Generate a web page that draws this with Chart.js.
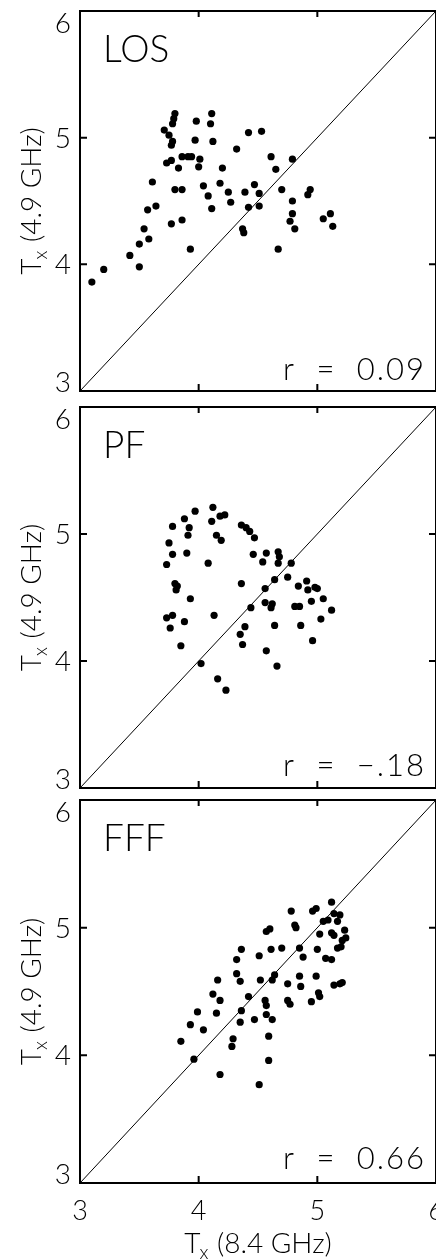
<!DOCTYPE html>
<html>
<head>
<meta charset="utf-8">
<script src="https://cdn.jsdelivr.net/npm/chart.js@4.4.1/dist/chart.umd.min.js"></script>
<style>
html,body{margin:0;padding:0;background:#fff;}
#wrap{position:relative;width:436px;height:1260px;overflow:hidden;background:#fff;}
canvas{position:absolute;left:0;}
</style>
</head>
<body>
<div id="wrap">
<canvas id="losChart" width="440" height="399" style="top:0px"></canvas>
<canvas id="pfChart" width="440" height="396" style="top:399px"></canvas>
<canvas id="fffChart" width="440" height="465" style="top:795px"></canvas>
</div>
<script>

// Tx at 8.4 GHz (x) and Tx at 4.9 GHz (y) for each group
const losT84 = [3.10,3.20,3.42,3.50,3.50,3.58,3.54,3.57,3.64,3.61,3.77,3.86,3.93,3.80,3.86,3.73,3.77,3.83,3.86,3.91,3.94,4.01,4.00,3.71,3.75,3.78,3.77,3.78,3.79,3.80,3.98,3.97,4.11,4.10,4.12,4.04,4.08,4.11,4.42,4.53,4.32,4.20,4.18,4.25,4.27,4.61,4.65,4.79,4.39,4.47,4.51,4.42,4.51,4.70,4.37,4.38,4.67,4.79,4.79,4.77,4.81,4.94,4.92,5.05,5.11,5.13];
const losT49 = [3.86,3.96,4.07,3.98,4.16,4.20,4.28,4.43,4.46,4.65,4.32,4.35,4.12,4.59,4.59,4.80,4.82,4.76,4.85,4.85,4.85,4.83,4.77,5.06,5.02,4.97,4.94,5.11,5.15,5.19,5.13,4.98,5.19,5.11,4.97,4.62,4.54,4.44,5.04,5.05,4.91,4.76,4.64,4.57,4.49,4.85,4.75,4.83,4.57,4.63,4.56,4.45,4.46,4.59,4.28,4.25,4.12,4.50,4.40,4.34,4.28,4.59,4.55,4.36,4.40,4.30];

const pfT84 = [3.97,4.12,3.88,3.78,3.92,3.91,4.11,4.18,4.22,4.15,4.19,3.75,3.78,3.90,3.73,4.08,3.80,3.82,3.81,3.93,3.73,3.78,3.76,3.88,4.13,3.85,4.02,4.16,4.23,4.36,4.39,4.35,4.37,4.36,4.40,4.43,4.47,4.46,4.54,4.57,4.67,4.68,4.67,4.78,4.64,4.75,4.56,4.44,4.56,4.62,4.61,4.64,4.57,4.66,4.84,4.91,4.92,4.98,5.00,4.95,5.05,4.81,4.85,5.12,5.03,4.86,4.96];
const pfT49 = [5.18,5.21,5.12,5.06,5.05,4.99,5.10,5.14,5.15,4.99,4.95,4.93,4.84,4.85,4.76,4.77,4.61,4.59,4.56,4.49,4.34,4.36,4.26,4.31,4.36,4.12,3.98,3.86,3.77,4.61,4.27,4.21,4.13,5.07,5.05,5.02,4.97,4.84,4.78,4.85,4.86,4.82,4.77,4.77,4.64,4.66,4.57,4.42,4.46,4.45,4.42,4.28,4.08,3.96,4.59,4.63,4.56,4.58,4.57,4.47,4.49,4.43,4.43,4.40,4.33,4.28,4.16];

const fffT84 = [4.36,4.32,4.51,4.16,4.32,4.35,4.52,4.12,4.18,3.99,4.15,4.42,4.36,4.35,4.47,3.93,4.04,4.29,4.28,3.85,3.96,4.18,4.51,4.78,4.99,4.96,5.12,4.81,4.82,4.57,4.60,5.05,5.09,5.14,5.19,5.17,5.02,5.12,5.14,5.23,5.24,5.21,4.61,4.70,4.85,4.88,5.00,5.07,5.12,5.17,5.20,4.64,4.62,4.75,4.85,4.86,4.99,5.01,5.02,4.95,5.14,5.19,5.21,4.75,4.77,4.56,4.57,4.57,4.62,4.59,4.59];
const fffT49 = [4.83,4.75,4.78,4.59,4.64,4.58,4.59,4.48,4.43,4.34,4.33,4.46,4.35,4.26,4.28,4.24,4.20,4.13,4.07,4.11,3.97,3.85,3.77,5.13,5.15,5.13,5.20,5.02,5.00,4.97,4.99,5.05,5.06,5.11,5.10,5.05,4.95,4.96,4.94,4.98,4.92,4.90,4.83,4.84,4.84,4.77,4.83,4.76,4.75,4.84,4.85,4.63,4.59,4.56,4.62,4.54,4.62,4.49,4.46,4.42,4.55,4.56,4.57,4.43,4.40,4.43,4.39,4.32,4.28,4.15,3.96];

const panelNames = ["LOS", "PF", "FFF"];
const rValues = ["0.09", "\u2212.18", "0.66"];
const tickValues = [3, 4, 5, 6];
const diagonalLine = [3, 6];

const FONT = "Lato, 'Liberation Sans', sans-serif";

function drawTx(ctx, rest, cx, base, size){

ctx.textAlign = "left";
ctx.textBaseline = "alphabetic";

ctx.font = "300 " + size + "px " + FONT;
const wT = ctx.measureText("T").width;
const wR = ctx.measureText(rest).width;

ctx.font = "300 " + Math.round(size * 0.68) + "px " + FONT;
const wX = ctx.measureText("x").width;

let x0 = cx - (wT + wX + wR) / 2;

ctx.font = "300 " + size + "px " + FONT;
ctx.fillText("T", x0, base);

ctx.font = "300 " + Math.round(size * 0.68) + "px " + FONT;
ctx.fillText("x", x0 + wT - 1, base + size * 0.22);

ctx.font = "300 " + size + "px " + FONT;
ctx.fillText(rest, x0 + wT + wX, base);

}

const framePlugin = {

id: "frame",

afterDatasetsDraw(chart, args, opts){

const ctx = chart.ctx;
const a = chart.chartArea;
const xs = chart.scales.x;
const ys = chart.scales.y;

ctx.save();

ctx.strokeStyle = "#000";
ctx.fillStyle = "#000";
ctx.lineWidth = 2;
ctx.strokeRect(a.left, a.top, a.right - a.left, a.bottom - a.top);

// inward ticks on all four sides
ctx.beginPath();
tickValues.slice(1, -1).forEach(v=>{
const px = xs.getPixelForValue(v);
const py = ys.getPixelForValue(v);
ctx.moveTo(px, a.bottom); ctx.lineTo(px, a.bottom - 7);
ctx.moveTo(px, a.top); ctx.lineTo(px, a.top + 6);
ctx.moveTo(a.left, py); ctx.lineTo(a.left + 7, py);
ctx.moveTo(a.right, py); ctx.lineTo(a.right - 7, py);
});
ctx.stroke();

// y tick labels
ctx.font = "300 28px " + FONT;
ctx.textAlign = "right";
ctx.textBaseline = "alphabetic";
tickValues.forEach((v, i)=>{
const m = ctx.measureText(String(v));
const h = m.actualBoundingBoxAscent;
let base;
if(i === tickValues.length - 1){
base = a.top + 2 + h;
}
else if(i === 0){
base = a.bottom + 1;
}
else{
base = ys.getPixelForValue(v) + h / 2;
}
ctx.fillText(String(v), a.left - 9, base);
});

// y title
ctx.save();
ctx.translate(41, (a.top + a.bottom) / 2);
ctx.rotate(-Math.PI / 2);
drawTx(ctx, " (4.9 GHz)", 0, 0, 28);
ctx.restore();

// panel name
ctx.font = "300 37px " + FONT;
ctx.textAlign = "left";
ctx.textBaseline = "alphabetic";
ctx.fillText(opts.name, a.left + 23, a.top + 51);

// correlation
ctx.font = "300 31px " + FONT;
ctx.wordSpacing = "10px";
ctx.letterSpacing = "2px";
ctx.fillText("r = " + opts.r, a.left + 203, a.top + 369);
ctx.wordSpacing = "0px";
ctx.letterSpacing = "0px";

// x labels only under the last panel
if(opts.bottom){
ctx.font = "300 27px " + FONT;
ctx.textAlign = "center";
tickValues.forEach(v=>{
ctx.fillText(String(v), xs.getPixelForValue(v), a.bottom + 37);
});
drawTx(ctx, " (8.4 GHz)", (a.left + a.right) / 2, a.bottom + 70, 28);
}

ctx.restore();

}

};

function makePanel(id, xs, ys, idx, padTop, padBottom){

const points = xs.map((v, i)=>({x: v, y: ys[i]}));

return new Chart(document.getElementById(id), {

type: "scatter",

data: {
datasets: [
{
type: "line",
data: diagonalLine.map(v=>({x: v, y: v})),
borderColor: "#000",
borderWidth: 1,
pointRadius: 0,
fill: false
},
{
data: points,
pointStyle: "circle",
pointRadius: 3.6,
backgroundColor: "#000",
borderWidth: 0
}
]
},

options: {
responsive: false,
animation: false,
events: [],
layout: {
padding: {left: 80, right: 3, top: padTop, bottom: padBottom}
},
scales: {
x: {type: "linear", min: 3, max: 6, display: false},
y: {type: "linear", min: 3, max: 6, display: false}
},
plugins: {
legend: {display: false},
tooltip: {enabled: false},
frame: {name: panelNames[idx], r: rValues[idx], bottom: idx === 2}
}
},

plugins: [framePlugin]

});

}

makePanel("losChart", losT84, losT49, 0, 11, 8);
makePanel("pfChart", pfT84, pfT49, 1, 8, 7);
makePanel("fffChart", fffT84, fffT49, 2, 5, 77);

</script>
</body>
</html>
